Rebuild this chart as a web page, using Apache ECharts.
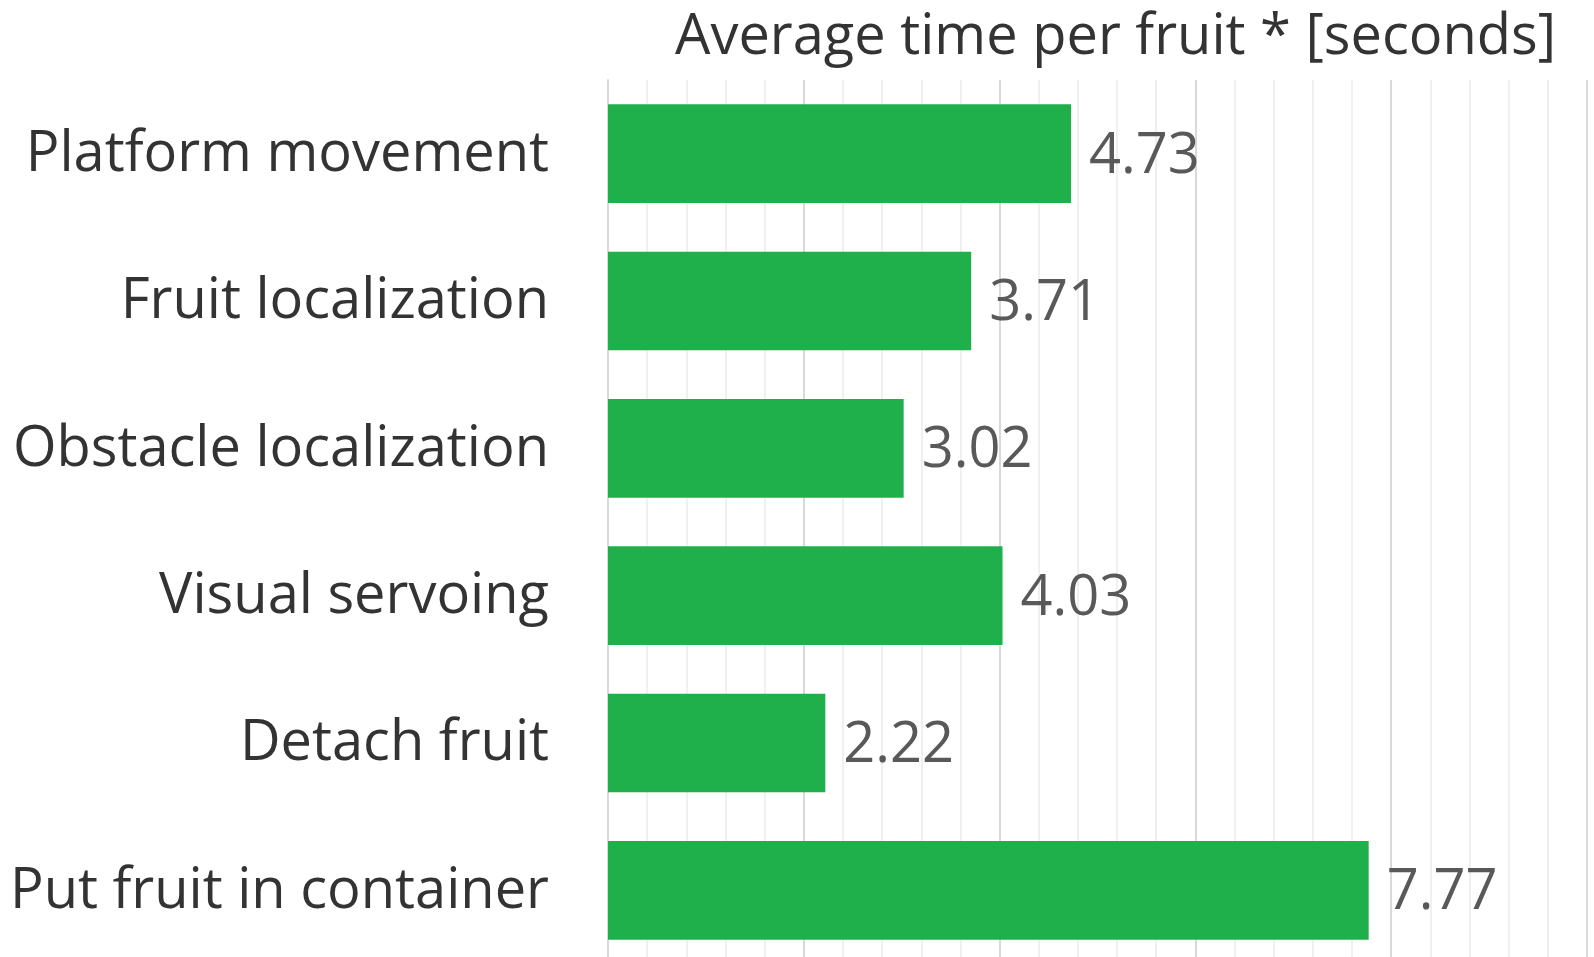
<!DOCTYPE html>
<html>
<head>
<meta charset="utf-8">
<script src="https://cdn.jsdelivr.net/npm/echarts@6/dist/echarts.min.js"></script>
<style>
    html, body { margin: 0; padding: 0; background: #fff; }
    #main { width: 1594px; height: 957px; }
</style>
</head>
<body>
<div id="main"></div>
<script>
// 各环节平均耗时
var categories = ['Platform movement', 'Fruit localization', 'Obstacle localization', 'Visual servoing', 'Detach fruit', 'Put fruit in container'];
var timeData = [4.73, 3.71, 3.02, 4.03, 2.22, 7.77];
var axisTitle = 'Average time per fruit * [seconds]';

var chart = echarts.init(document.getElementById('main'));
var option = {
    animation: false,
    textStyle: {
        fontFamily: '"Open Sans", sans-serif'
    },
    title: {
        text: axisTitle,
        right: 33,
        top: 5,
        textStyle: {
            fontFamily: '"Open Sans", sans-serif',
            fontSize: 56,
            fontWeight: 'normal',
            color: '#333333'
        }
    },
    grid: {
        left: 608,
        right: 7,
        top: 80,
        height: 884,
        outerBoundsMode: 'none',
        containLabel: false
    },
    xAxis: {
        type: 'value',
        min: 0,
        max: 10,
        interval: 2,
        axisLabel: { show: false },
        axisTick: { show: false },
        axisLine: { show: false },
        splitLine: {
            show: true,
            lineStyle: { color: '#d9d9d9', width: 2 }
        },
        minorTick: { show: false, splitNumber: 5 },
        minorSplitLine: {
            show: true,
            lineStyle: { color: '#f0f0f0', width: 2 }
        }
    },
    yAxis: {
        type: 'category',
        data: categories,
        inverse: true,
        axisTick: { show: false },
        axisLine: {
            show: true,
            lineStyle: { color: '#d9d9d9', width: 2 }
        },
        axisLabel: {
            margin: 59,
            formatter: function (value) {
                return '{a|' + value + '}';
            },
            rich: {
                a: {
                    fontSize: 56,
                    color: '#333333',
                    padding: [3, 0, 0, 0]
                }
            }
        }
    },
    series: [
        {
            name: 'time',
            type: 'bar',
            barCategoryGap: '33%',
            itemStyle: { color: '#1fb04b' },
            label: {
                show: true,
                position: 'right',
                distance: 18,
                formatter: function (p) {
                    return '{v|' + p.value.toFixed(2) + '}';
                },
                rich: {
                    v: {
                        fontSize: 56,
                        color: '#595959',
                        padding: [6, 0, 0, 0]
                    }
                }
            },
            data: timeData
        }
    ]
};
chart.setOption(option);
window.onresize = function () {
    chart.resize();
};
</script>
</body>
</html>
